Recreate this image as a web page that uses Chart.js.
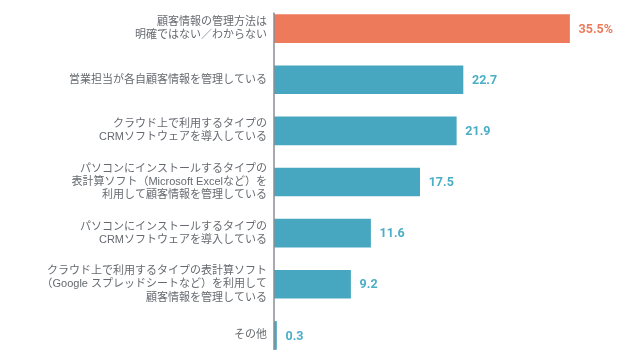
<!DOCTYPE html>
<html lang="ja">
<head>
    <meta charset="UTF-8">
    <title>顧客情報の管理方法</title>
    <script src="https://cdn.jsdelivr.net/npm/chart.js"></script>
    <style>
        html, body {
            margin: 0;
            padding: 0;
            background: #ffffff;
            overflow: hidden;
        }
    </style>
</head>
<body>
    <canvas id="chart" width="629" height="361"></canvas>

    <script>
        const categories = [
            ['顧客情報の管理方法は', '明確ではない／わからない'],
            '営業担当が各自顧客情報を管理している',
            ['クラウド上で利用するタイプの', 'CRMソフトウェアを導入している'],
            ['パソコンにインストールするタイプの', '表計算ソフト（Microsoft Excelなど）を', '利用して顧客情報を管理している'],
            ['パソコンにインストールするタイプの', 'CRMソフトウェアを導入している'],
            ['クラウド上で利用するタイプの表計算ソフト', '（Google スプレッドシートなど）を利用して', '顧客情報を管理している'],
            'その他'
        ];
        const values = [35.5, 22.7, 21.9, 17.5, 11.6, 9.2, 0.3];
        const barColors = ['#ED7A5A', '#48A7C0', '#48A7C0', '#48A7C0', '#48A7C0', '#48A7C0', '#48A7C0'];

        // value labels + left axis line
        const extras = {
            id: 'extras',
            afterDatasetsDraw(chart) {
                const ctx = chart.ctx;
                const bars = chart.getDatasetMeta(0).data;
                ctx.save();
                ctx.font = 'bold 12.5px Roboto, "Liberation Sans", sans-serif';
                ctx.textBaseline = 'middle';
                ctx.textAlign = 'left';
                bars.forEach((bar, i) => {
                    const txt = i === 0 ? values[i].toFixed(1) + '%' : values[i].toFixed(1);
                    ctx.fillStyle = i === 0 ? barColors[i] : '#4BAEC7';
                    ctx.fillText(txt, bar.x + 9, bar.y + 1);
                });
                const first = bars[0];
                ctx.strokeStyle = '#8a8f96';
                ctx.lineWidth = 1.5;
                ctx.beginPath();
                ctx.moveTo(chart.chartArea.left, first.y - first.height / 2 - 2);
                ctx.lineTo(chart.chartArea.left, chart.chartArea.bottom);
                ctx.stroke();
                ctx.restore();
            }
        };

        new Chart(document.getElementById('chart'), {
            type: 'bar',
            data: {
                labels: categories,
                datasets: [{
                    data: values,
                    backgroundColor: barColors,
                    borderWidth: 0,
                    barThickness: 28
                }]
            },
            options: {
                indexAxis: 'y',
                responsive: false,
                animation: false,
                layout: { padding: { top: 3, right: 22, bottom: 0, left: 0 } },
                plugins: {
                    legend: { display: false },
                    tooltip: { enabled: false }
                },
                scales: {
                    x: {
                        display: false,
                        min: 0,
                        max: 40
                    },
                    y: {
                        grid: { display: false, drawTicks: false },
                        border: { display: false },
                        ticks: {
                            padding: 7,
                            color: '#666a70',
                            font: { size: 11, family: '"Liberation Sans", "Noto Sans CJK JP", sans-serif', lineHeight: 1.2 }
                        },
                        afterFit(scale) {
                            scale.width = 274;
                            scale.paddingTop = 0;
                            scale.paddingBottom = 0;
                        }
                    }
                }
            },
            plugins: [extras]
        });
    </script>
</body>
</html>
